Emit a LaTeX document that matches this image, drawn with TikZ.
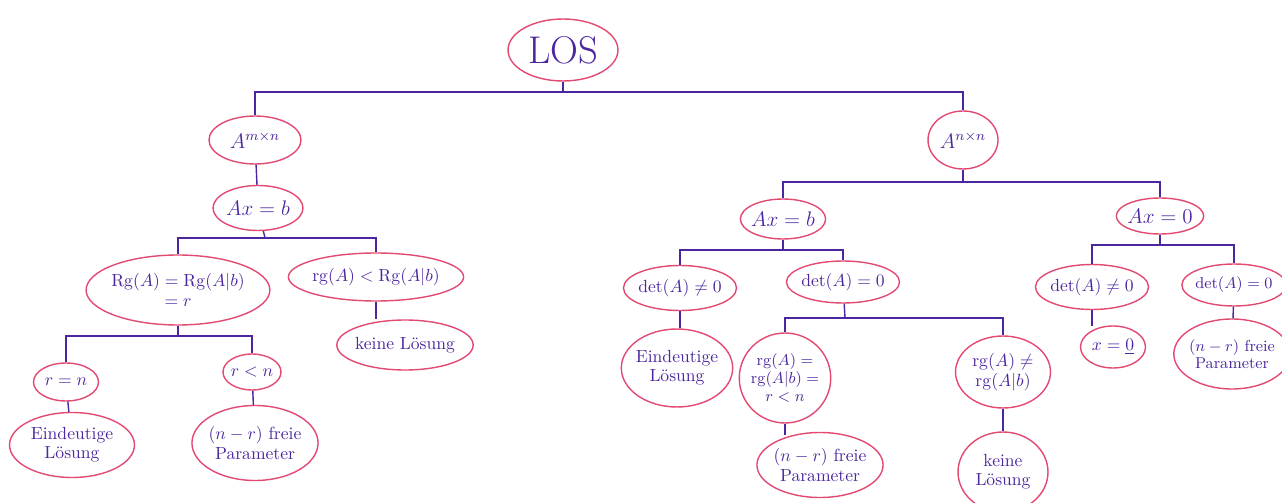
\documentclass[tikz,border=0pt]{standalone}
\usepackage{amsmath}
\usepackage{amssymb}
\usepackage{tikz}
\usetikzlibrary{calc}
\usetikzlibrary{shapes}
\usetikzlibrary{shapes.geometric}
\definecolor{rose}{RGB}{226,74,114}
\definecolor{ink}{RGB}{76,38,158}
\tikzset{bubble/.style = {ellipse, draw=rose, thick, text=ink, inner sep=-1pt, align=center, font=\fontsize{10}{11}\selectfont}}
\tikzset{link/.style = {-, draw=ink, thick}}

\begin{document}
\begin{tikzpicture}[x=0.02cm, y=-0.02cm]
\useasboundingbox (0,0) rectangle (1282,503);
% root and the two matrix kinds
\node [bubble, minimum width=2.2cm, minimum height=1.24cm, font=\fontsize{22}{24}\selectfont] (los) at (563,50) {LOS};
\node [bubble, minimum width=1.84cm, minimum height=0.96cm, font=\large] (amn) at (255,140) {$A^{m\times n}$};
\node [bubble, minimum width=1.4cm, minimum height=1.16cm, font=\large] (ann) at (963,140) {$A^{n\times n}$};
% left branch
\node [bubble, minimum width=1.8cm, minimum height=0.9cm, font=\large] (axbl) at (258,208) {$Ax=b$};
\node [bubble, minimum width=3.0cm, minimum height=1.4cm] (rgeq) at (178,290) {$\mathrm{Rg}(A)=\mathrm{Rg}(A|b)$\\$=r$};
\node [bubble, minimum width=2.74cm, minimum height=0.96cm] (rglt) at (376,277) {$\mathrm{rg}(A)<\mathrm{Rg}(A|b)$};
\node [bubble, minimum width=2.6cm, minimum height=1.0cm] (keinel) at (405,345) {keine Lösung};
\node [bubble, minimum width=1.3cm, minimum height=0.76cm] (rn) at (66,382) {$r=n$};
\node [bubble, minimum width=1.16cm, minimum height=0.72cm] (rltn) at (252,372) {$r<n$};
\node [bubble, minimum width=2.5cm, minimum height=1.3cm] (eindl) at (72,445) {Eindeutige\\Lösung};
\node [bubble, minimum width=2.44cm, minimum height=1.5cm] (freil) at (255,443) {$(n-r)$ freie\\Parameter};
% right branch
\node [bubble, minimum width=1.7cm, minimum height=0.8cm, font=\large] (axbr) at (783,219) {$Ax=b$};
\node [bubble, minimum width=1.6cm, minimum height=0.72cm, font=\large] (ax0) at (1160,216) {$Ax=0$};
\node [bubble, minimum width=1.6cm, minimum height=0.9cm] (detnl) at (680,288) {$\det(A)\neq 0$};
\node [bubble, minimum width=1.56cm, minimum height=0.84cm] (deteq) at (843,282) {$\det(A)=0$};
\node [bubble, minimum width=1.96cm, minimum height=1.56cm] (eindm) at (677,368) {Eindeutige\\Lösung};
\node [bubble, minimum width=1.7cm, minimum height=1.8cm, font=\fontsize{9.5}{10.5}\selectfont] (rgall) at (785,378) {$\mathrm{rg}(A)=$\\$\mathrm{rg}(A|b)=$\\$r<n$};
\node [bubble, minimum width=1.9cm, minimum height=1.44cm] (rgne) at (1003,372) {$\mathrm{rg}(A)\neq$\\$\mathrm{rg}(A|b)$};
\node [bubble, minimum width=2.0cm, minimum height=1.3cm] (freim) at (820,465) {$(n-r)$ freie\\Parameter};
\node [bubble, minimum width=1.8cm, minimum height=1.6cm] (keiner) at (1003,472) {keine\\Lösung};
\node [bubble, minimum width=1.7cm, minimum height=0.9cm] (detnr) at (1092,287) {$\det(A)\neq 0$};
\node [bubble, minimum width=1.3cm, minimum height=0.84cm] (x0) at (1113,347) {$x=\underline{0}$};
\node [bubble, minimum width=1.64cm, minimum height=0.84cm, font=\fontsize{9}{10}\selectfont] (deter) at (1234,285) {$\det(A)=0$};
\node [bubble, minimum width=1.84cm, minimum height=1.4cm, font=\fontsize{9}{10}\selectfont] (freir) at (1232,354) {$(n-r)$ freie\\Parameter};
% bars
\coordinate (b0) at (563,92);
\coordinate (b1) at (265,238);
\coordinate (b2) at (178,336);
\coordinate (b3) at (963,182);
\coordinate (b4) at (783,250);
\coordinate (b5) at (1160,245);
\coordinate (b6) at (845,318);
\draw [link] (los) -- (b0);
\draw [link] (amn) |- (b0) -| (ann);
\draw [link] (amn) -- (axbl);
\draw [link] (axbl) -- (b1);
\draw [link] (rgeq) |- (b1) -| (rglt);
\draw [link] (rglt) -- (rglt |- keinel.north);
\draw [link] (rgeq) -- (b2);
\draw [link] (rn) |- (b2) -| (rltn);
\draw [link] (rn) -- (eindl);
\draw [link] (rltn) -- (freil);
\draw [link] (ann) -- (b3);
\draw [link] (axbr) |- (b3) -| (ax0);
\draw [link] (axbr) -- (b4);
\draw [link] (detnl) |- (b4) -| (deteq);
\draw [link] (detnl) -- (detnl |- eindm.north);
\draw [link] (deteq) -- (b6);
\draw [link] (rgall) |- (b6) -| (rgne);
\draw [link] (rgall) -- ($(rgall |- freim.north)+(0,3)$);
\draw [link] (rgne) -- (keiner);
\draw [link] (ax0) -- (b5);
\draw [link] (detnr) |- (b5) -| (deter);
\draw [link] (detnr) -- ($(detnr |- x0.north)+(0,1)$);
\draw [link] (deter) -- (freir);
\end{tikzpicture}
\end{document}
